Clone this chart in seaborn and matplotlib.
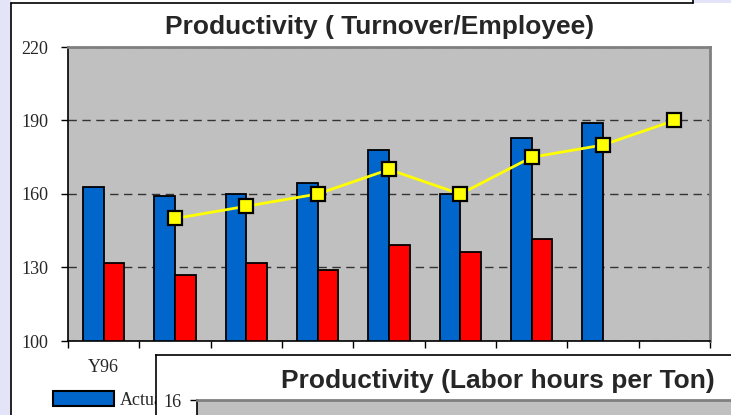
import numpy as np
import pandas as pd
import matplotlib
matplotlib.use("Agg")
import matplotlib.pyplot as plt
import seaborn as sns
from matplotlib.patches import Rectangle, Patch
from matplotlib.lines import Line2D

# ---- data ----
years = ["Y96", "Y97", "Y98", "Y99", "Y00", "Y01", "Y02", "Y03", "Y04"]
actual = [163, 159, 160, 164.5, 178, 160, 183, 189, np.nan]
budget = [132, 127, 132, 129, 139, 136.5, 141.5, np.nan, np.nan]
target = [np.nan, 150, 155, 160, 170, 160, 175, 180, 190]
y_ticks = [100, 130, 160, 190, 220]
title_main = "Productivity ( Turnover/Employee)"
title_second = "Productivity (Labor hours per Ton)"
second_ticks = [16]

sns.set_theme(style="white")
plt.rcParams["font.family"] = ["Liberation Serif", "DejaVu Serif"]
SANS = ["Liberation Sans", "DejaVu Sans"]

W, H = 731, 415
fig = plt.figure(figsize=(W / 100, H / 100), dpi=100, facecolor="white")


def fx(px):
    return px / W


def fy(py):
    return 1 - py / H


LAV = "#E4E4F8"
# window decorations
fig.patches.append(Rectangle((0, 0), fx(11), 1, transform=fig.transFigure,
                             facecolor=LAV, edgecolor="none", zorder=0))
fig.patches.append(Rectangle((fx(693), fy(3)), 1, 1, transform=fig.transFigure,
                             facecolor=LAV, edgecolor="none", zorder=0))
fig.lines.append(Line2D([fx(11), fx(11)], [0, fy(3)], transform=fig.transFigure,
                        color="black", lw=1.2))
fig.lines.append(Line2D([fx(11), fx(693)], [fy(3), fy(3)], transform=fig.transFigure,
                        color="black", lw=1.2))
fig.lines.append(Line2D([fx(693), fx(693)], [fy(3), 1], transform=fig.transFigure,
                        color="black", lw=1.2))

# ---- main chart ----
ax = fig.add_axes([fx(68), fy(341), fx(710) - fx(68), fy(47) - fy(341)])
ax.set_facecolor("#C0C0C0")
ax.set_axisbelow(True)

df = pd.DataFrame({
    "Year": years * 2,
    "Value": actual + budget,
    "Series": ["Actual"] * len(years) + ["Budget"] * len(years),
})
sns.barplot(data=df, x="Year", y="Value", hue="Series", order=years,
            hue_order=["Actual", "Budget"],
            palette={"Actual": "#0066CC", "Budget": "#FF0000"},
            width=0.58, saturation=1, edgecolor="black", linewidth=1.3,
            errorbar=None, legend=False, ax=ax)

line_df = pd.DataFrame({"pos": np.arange(len(years)), "Target": target}).dropna()
sns.lineplot(data=line_df, x="pos", y="Target", ax=ax, color="#FFFF00", lw=2,
             marker="s", markersize=10.5, markeredgecolor="black",
             markeredgewidth=1.6, zorder=5)

ax.set_xlabel("")
ax.set_ylabel("")
ax.set_ylim(100, 220)
ax.set_xlim(-0.5, len(years) - 0.5)
ax.set_yticks(y_ticks)
ax.set_yticklabels([str(v) for v in y_ticks])
ax.yaxis.grid(True, linestyle=(0, (6, 4)), color="#333333", lw=1)
ax.xaxis.grid(False)

ax.set_xticks(np.arange(len(years)))
ax.set_xticklabels(years)
ax.set_xticks(np.arange(-0.5, len(years), 1), minor=True)
ax.tick_params(axis="x", which="major", length=0, pad=13, labelsize=13,
               bottom=True)
ax.tick_params(axis="x", which="minor", length=5, width=1, direction="out",
               color="black", bottom=True)
ax.tick_params(axis="y", which="major", length=5, width=1, direction="out",
               color="black", pad=9, labelsize=13, left=True)
# only the first category label is visible; the rest lie under the second chart
for lbl in ax.get_xticklabels()[1:]:
    lbl.set_visible(False)

for s in ["left", "bottom"]:
    ax.spines[s].set_color("black")
    ax.spines[s].set_linewidth(1.2)
for s in ["top", "right"]:
    ax.spines[s].set_color("#808080")
    ax.spines[s].set_linewidth(2)

fig.text(fx(380), fy(27), title_main, ha="center", va="center",
         fontsize=19, fontweight="bold", family=SANS)

ax.legend(handles=[Patch(facecolor="#0066CC", edgecolor="black", lw=1.5,
                         label="Actual")],
          loc="upper left", bbox_to_anchor=(fx(53), fy(391)),
          bbox_transform=fig.transFigure, frameon=False, handlelength=3.4,
          handleheight=0.9, fontsize=13, borderpad=0, borderaxespad=0,
          handletextpad=0.3)

# ---- second (overlapping) chart ----
ax2 = fig.add_axes([fx(156), fy(440), 1.0, fy(355) - fy(440)])
ax2.set_zorder(5)
ax2.set_facecolor("white")
ax2.set_xticks([])
ax2.set_yticks([])
for s in ax2.spines.values():
    s.set_color("black")
    s.set_linewidth(1.2)
ax2.text(fx(498), fy(381), title_second, transform=fig.transFigure,
         ha="center", va="center", fontsize=19, fontweight="bold", family=SANS)

ax3 = fig.add_axes([fx(197), fy(440), 1.0, fy(400) - fy(440)])
ax3.set_zorder(6)
ax3.set_facecolor("#C0C0C0")
ax3.set_ylim(13.5, 16)
ax3.set_yticks(second_ticks)
ax3.set_yticklabels([str(v) for v in second_ticks])
ax3.set_xticks([])
ax3.tick_params(axis="y", length=5, width=1, direction="out", color="black",
                pad=6, labelsize=13, left=True)
ax3.spines["left"].set_color("black")
ax3.spines["left"].set_linewidth(1.2)
ax3.spines["top"].set_color("#808080")
ax3.spines["top"].set_linewidth(2)
ax3.spines["right"].set_visible(False)
ax3.spines["bottom"].set_visible(False)

fig.savefig("out.png", dpi=100)
